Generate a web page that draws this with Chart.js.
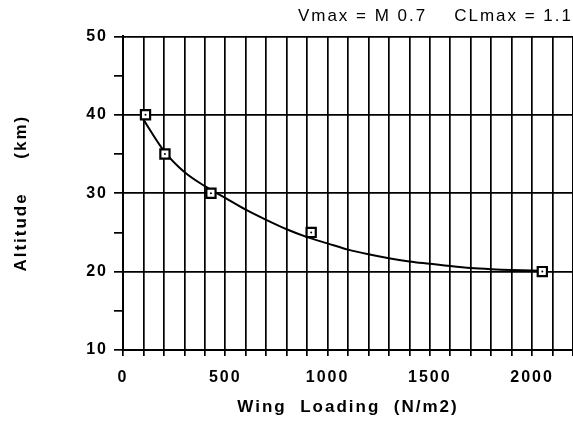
<!DOCTYPE html>
<html lang="en">
<head>
  <meta charset="UTF-8" />
  <title>Altitude vs Wing Loading</title>
  <style>
    * { margin: 0; padding: 0; box-sizing: border-box; }
    body { background: white; }
    #wrap { width: 573px; height: 422px; }
  </style>
</head>
<body>
  <div id="wrap"><canvas id="chartCanvas"></canvas></div>

  <script src="https://cdn.jsdelivr.net/npm/chart.js"></script>
  <script>
    // data
    const markX = [110, 205, 430, 920, 2050];
    const markY = [40, 35, 30, 25, 20];

    const curveX = [90, 200, 300, 400, 500, 600, 700, 800, 900, 1000, 1100, 1200, 1300, 1400, 1500, 1600, 1700, 1800, 1900, 2000, 2050];
    const curveY = [39.8, 35.4, 32.7, 30.9, 29.4, 27.9, 26.6, 25.4, 24.4, 23.6, 22.8, 22.2, 21.7, 21.3, 21.0, 20.7, 20.45, 20.3, 20.2, 20.15, 20.1];

    const xLabels = [0, 500, 1000, 1500, 2000];
    const yLabels = [10, 20, 30, 40, 50];

    const chartTitle = 'Vmax = M 0.7    CLmax = 1.1';
    const xTitle = 'Wing  Loading  (N/m2)';
    const yTitle = 'Altitude     (km)';

    const toPts = (xs, ys) => xs.map((x, i) => ({ x: x, y: ys[i] }));
    const family = "'Liberation Sans', Arial, sans-serif";

    // old plotter text is spread out
    const spacing = {
      id: 'spacing',
      beforeUpdate(chart) { chart.ctx.letterSpacing = '2px'; },
      beforeDraw(chart) { chart.ctx.letterSpacing = '2px'; }
    };

    Chart.defaults.color = '#000';

    const ctx = document.getElementById('chartCanvas').getContext('2d');
    const chart = new Chart(ctx, {
      type: 'line',
      data: {
        datasets: [
          {
            data: toPts(markX, markY),
            showLine: false,
            pointStyle: 'circle',
            pointRadius: 1,
            backgroundColor: '#000',
            borderColor: '#000',
            borderWidth: 0
          },
          {
            data: toPts(markX, markY),
            showLine: false,
            pointStyle: 'rect',
            pointRadius: 6.5,
            backgroundColor: '#fff',
            borderColor: '#000',
            borderWidth: 2.2
          },
          {
            data: toPts(curveX, curveY),
            borderColor: '#000',
            borderWidth: 2,
            pointRadius: 0,
            cubicInterpolationMode: 'monotone',
            fill: false
          }
        ]
      },
      options: {
        responsive: true,
        maintainAspectRatio: false,
        animation: false,
        layout: { padding: 0, autoPadding: false },
        plugins: {
          legend: { display: false },
          tooltip: { enabled: false },
          title: {
            display: true,
            text: chartTitle,
            align: 'end',
            color: '#000',
            font: { family: family, size: 17, weight: 'normal' },
            padding: { top: 6, bottom: 10 }
          }
        },
        scales: {
          x: {
            type: 'linear',
            min: 0,
            max: 2200,
            afterFit(s) {
              s.height = 72;
              s.paddingLeft = 0;
              s.paddingRight = 0;
            },
            border: { color: '#000', width: 2 },
            grid: {
              color: '#000',
              lineWidth: 1.7,
              tickColor: '#000',
              tickLength: 6
            },
            ticks: {
              stepSize: 100,
              autoSkip: false,
              maxRotation: 0,
              padding: 12,
              font: { family: family, size: 16, weight: 'bold' },
              callback: v => xLabels.includes(v) ? String(v) : ''
            },
            title: {
              display: true,
              text: xTitle,
              font: { family: family, size: 17, weight: 'bold' },
              padding: { top: 0, bottom: 4 }
            }
          },
          y: {
            min: 10,
            max: 50,
            afterFit(s) { s.width = 123; },
            border: { color: '#000', width: 2 },
            grid: {
              color: c => (c.tick && c.tick.value % 10 === 0) ? '#000' : 'rgba(0,0,0,0)',
              lineWidth: 1.7,
              tickColor: '#000',
              tickLength: 9
            },
            ticks: {
              stepSize: 5,
              autoSkip: false,
              padding: 6,
              font: { family: family, size: 16, weight: 'bold' },
              callback: v => yLabels.includes(v) ? String(v) : ''
            },
            title: {
              display: true,
              text: yTitle,
              font: { family: family, size: 17, weight: 'bold' },
              padding: { top: 11, bottom: 0 }
            }
          }
        }
      },
      plugins: [spacing]
    });
  </script>
</body>
</html>
